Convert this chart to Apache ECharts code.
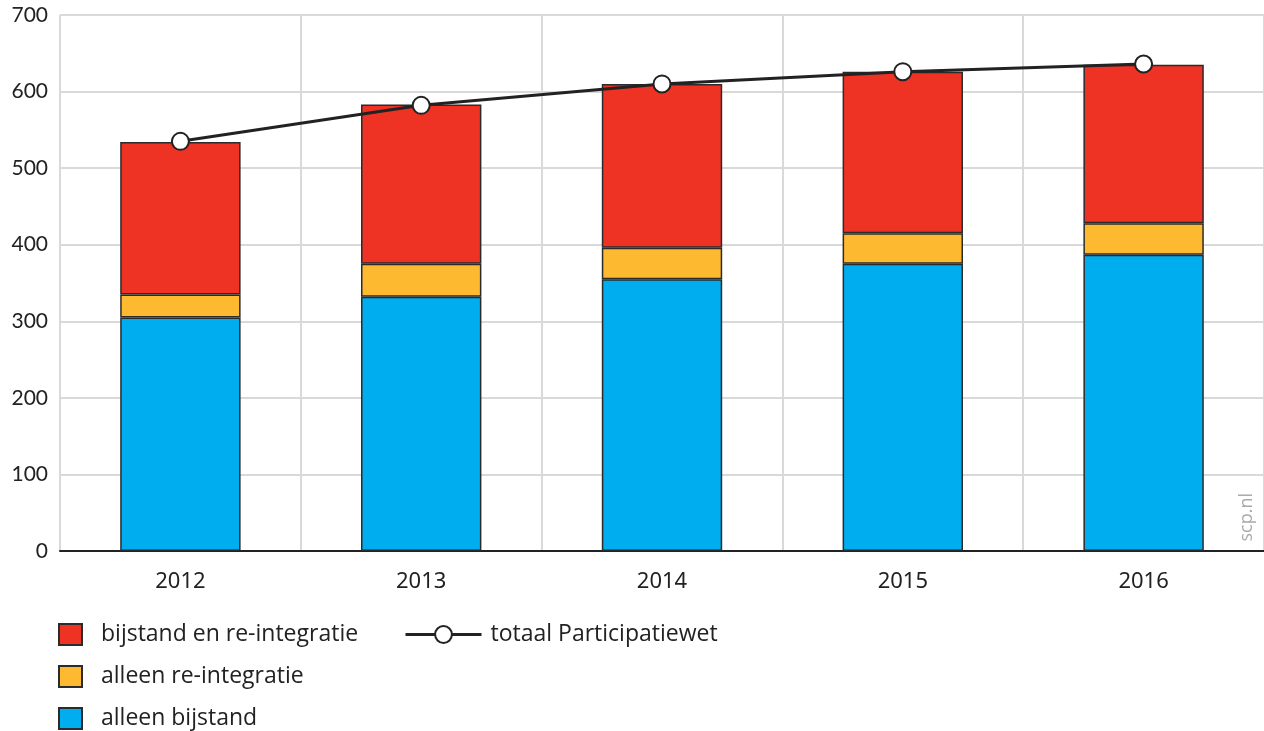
<!DOCTYPE html>
<html>
<head>
<meta charset="utf-8">
<script src="https://cdn.jsdelivr.net/npm/echarts@6/dist/echarts.min.js"></script>
<style>
  * { margin: 0; padding: 0; }
  html, body { width: 1264px; height: 731px; background: #fff; }
  #main { width: 1264px; height: 731px; }
</style>
</head>
<body>
<div id="main"></div>
<script>
// jaren
var years = ['2012', '2013', '2014', '2015', '2016'];
// gestapelde delen (x 1000)
var alleenBijstand = [305, 332, 355, 375, 387];
var alleenReintegratie = [30, 43, 41, 40, 41];
var bijstandEnReintegratie = [199, 208, 214, 211, 207];
// totaal
var totaal = [535, 582, 610, 626, 636];
var yTicks = [0, 100, 200, 300, 400, 500, 600, 700];

var myChart = echarts.init(document.getElementById('main'));

var barBorder = { borderColor: '#2b2b2b', borderWidth: 1.5 };
var legendText = { fontFamily: 'Open Sans', fontSize: 23, color: '#222', padding: [0, 0, 0, 14] };

function boxLegend(name, top) {
    return {
        left: 58,
        top: top,
        padding: 0,
        icon: 'rect',
        itemWidth: 23,
        itemHeight: 21,
        data: [name],
        textStyle: legendText
    };
}

var option = {
    animation: false,
    grid: { left: 60, right: 0, top: 15, bottom: 180 },
    legend: [
        boxLegend('bijstand en re-integratie', 623),
        boxLegend('alleen re-integratie', 665),
        boxLegend('alleen bijstand', 707),
        {
            left: 404,
            top: 623,
            padding: 0,
            itemWidth: 76,
            itemHeight: 21,
            data: ['totaal Participatiewet'],
            lineStyle: { width: 3, color: '#222' },
            textStyle: { fontFamily: 'Open Sans', fontSize: 23, color: '#222', padding: [0, 0, 0, 4] }
        }
    ],
    xAxis: {
        type: 'category',
        data: years,
        axisLine: { lineStyle: { color: '#222', width: 2 } },
        axisTick: { alignWithLabel: true, length: 9, lineStyle: { color: '#222', width: 2 } },
        axisLabel: { margin: 20, fontFamily: 'Noto Sans', fontSize: 22, color: '#222' },
        splitLine: { show: true, lineStyle: { color: '#d9d9d9', width: 2 } }
    },
    yAxis: {
        type: 'value',
        min: 0,
        max: yTicks[yTicks.length - 1],
        interval: 100,
        axisLine: { show: false },
        axisTick: { show: false },
        axisLabel: { margin: 12, fontFamily: 'Lato', fontSize: 21, color: '#222' },
        splitLine: { lineStyle: { color: '#d9d9d9', width: 2 } }
    },
    series: [{
        name: 'alleen bijstand',
        type: 'bar',
        stack: 'tot',
        barWidth: '50%',
        itemStyle: Object.assign({ color: '#00adee' }, barBorder),
        data: alleenBijstand
    }, {
        name: 'alleen re-integratie',
        type: 'bar',
        stack: 'tot',
        itemStyle: Object.assign({ color: '#fdb92f' }, barBorder),
        data: alleenReintegratie
    }, {
        name: 'bijstand en re-integratie',
        type: 'bar',
        stack: 'tot',
        itemStyle: Object.assign({ color: '#ee3224' }, barBorder),
        data: bijstandEnReintegratie
    }, {
        name: 'totaal Participatiewet',
        type: 'line',
        data: totaal,
        symbol: 'circle',
        symbolSize: 17,
        lineStyle: { color: '#222', width: 3 },
        itemStyle: { color: '#fff', borderColor: '#222', borderWidth: 2 },
        z: 5
    }],
    graphic: [{
        type: 'text',
        left: 1238,
        top: 493,
        rotation: Math.PI / 2,
        style: { text: 'scp.nl', fontFamily: 'Open Sans', fontSize: 18, fill: '#aaa' }
    }]
};

myChart.setOption(option);
</script>
</body>
</html>
